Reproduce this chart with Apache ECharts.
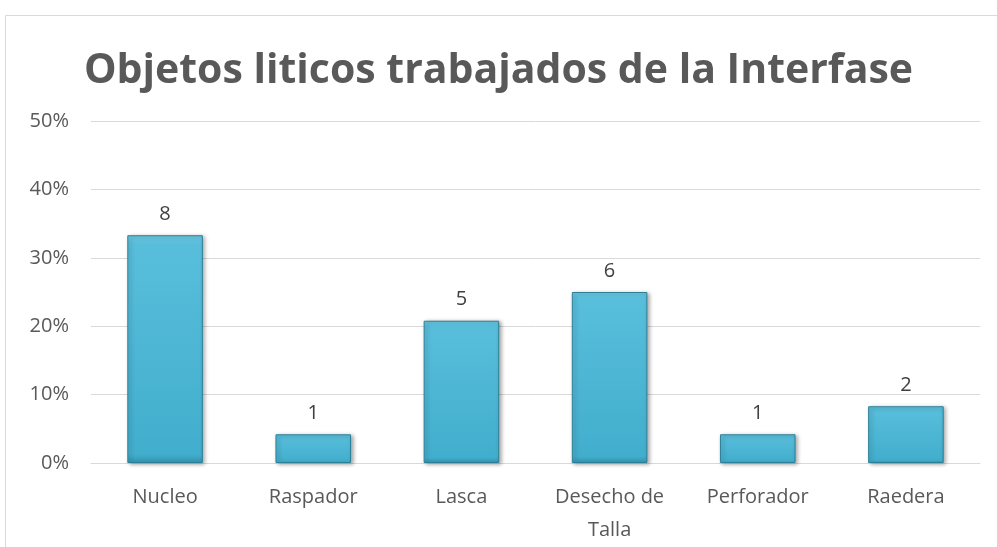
<!DOCTYPE html>
<html>
<head>
<meta charset="utf-8">
<style>
  html, body { margin: 0; padding: 0; background: #fff; }
  #chart { width: 997px; height: 547px; }
</style>
<script src="https://cdn.jsdelivr.net/npm/echarts@6/dist/echarts.min.js"></script>
</head>
<body>
<div id="chart"></div>
<script>
const categories = ['Nucleo', 'Raspador', 'Lasca', 'Desecho de Talla', 'Perforador', 'Raedera']
const percentValues = [33.3, 4.2, 20.8, 25.0, 4.2, 8.3]
const countLabels = [8, 1, 5, 6, 1, 2]
const yTicks = [0, 10, 20, 30, 40, 50]

const chart = echarts.init(document.getElementById('chart'))
chart.setOption({
  animation: false,
  title: {
    text: 'Objetos liticos trabajados de la Interfase',
    left: 'center',
    top: 46,
    textStyle: { fontFamily: 'Open Sans', fontWeight: 'bold', fontSize: 41, color: '#595959' },
  },
  graphic: [{
    type: 'rect',
    shape: { x: 5.5, y: 15.5, width: 1000, height: 600 },
    style: { fill: 'none', stroke: '#d9d9d9', lineWidth: 1 },
    silent: true,
  }],
  grid: { left: 91, right: 17, top: 121, bottom: 84 },
  xAxis: {
    type: 'category',
    data: categories,
    axisLine: { lineStyle: { color: '#d9d9d9', width: 1 } },
    axisTick: { show: false },
    axisLabel: {
      color: '#595959',
      fontFamily: 'Open Sans',
      fontSize: 20,
      margin: 18,
      lineHeight: 33,
      interval: 0,
      formatter: v => v === 'Desecho de Talla' ? 'Desecho de\nTalla' : v,
    },
  },
  yAxis: {
    type: 'value',
    min: yTicks[0],
    max: yTicks[yTicks.length - 1],
    interval: 10,
    axisLine: { show: false },
    axisTick: { show: false },
    axisLabel: { color: '#595959', fontFamily: 'Open Sans', fontSize: 20, margin: 22, formatter: '{value}%' },
    splitLine: { lineStyle: { color: '#d9d9d9', width: 1 } },
  },
  series: [{
    type: 'bar',
    barWidth: '51%',
    data: percentValues,
    itemStyle: {
      color: new echarts.graphic.LinearGradient(0, 0, 0, 1, [
        { offset: 0, color: '#6cc7e0' },
        { offset: 0.04, color: '#58bedb' },
        { offset: 0.96, color: '#42aecd' },
        { offset: 1, color: '#3596b3' },
      ]),
      borderColor: '#2d7f98',
      borderWidth: 1,
      shadowBlur: 4,
      shadowColor: 'rgba(0,0,0,0.35)',
      shadowOffsetX: 2,
      shadowOffsetY: 1,
    },
    label: {
      show: true,
      position: 'top',
      distance: 11,
      color: '#404040',
      fontFamily: 'Open Sans',
      fontSize: 20,
      formatter: p => countLabels[p.dataIndex],
    },
  }],
})
</script>
</body>
</html>
